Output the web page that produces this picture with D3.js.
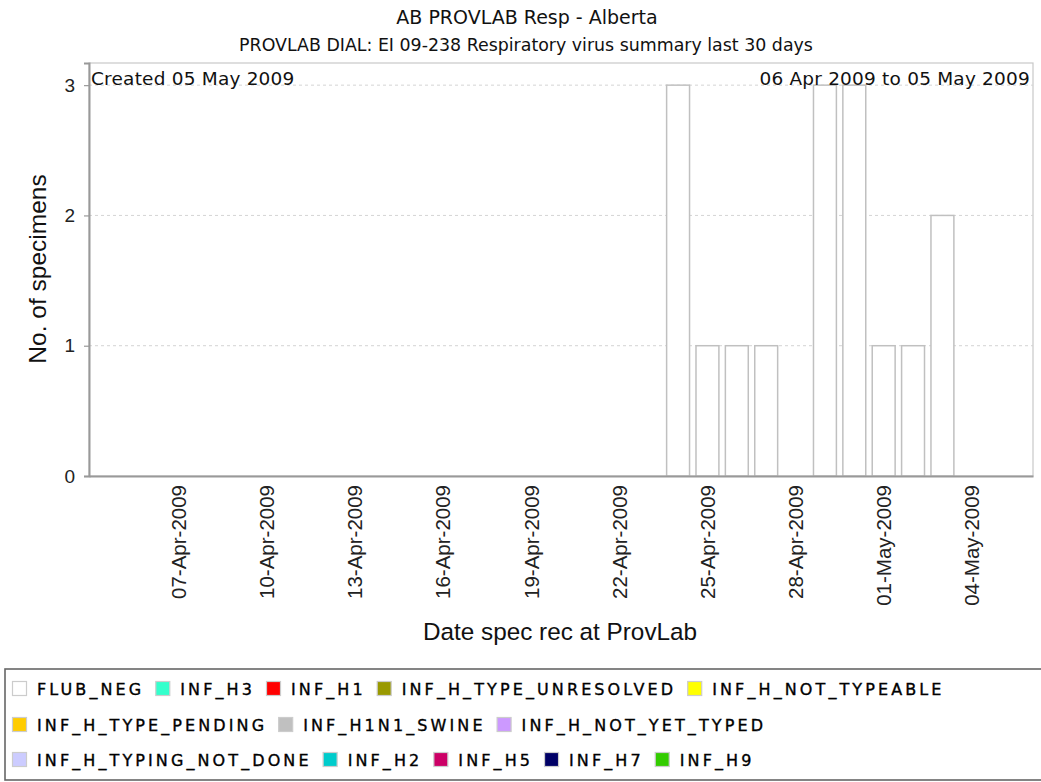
<!DOCTYPE html>
<html>
<head>
<meta charset="utf-8">
<script src="https://cdn.jsdelivr.net/npm/d3@7"></script>
<style>
  html, body { margin: 0; padding: 0; background: #fff; }
  svg { display: block; }
</style>
</head>
<body>
<svg id="chart" width="1041" height="782"></svg>
<script>
// ---------------- data ----------------
const chartTitle = "AB PROVLAB Resp - Alberta";
const chartSubtitle = "PROVLAB DIAL: EI 09-238 Respiratory virus summary last 30 days";
const createdText = "Created 05 May 2009";
const rangeText = "06 Apr 2009 to 05 May 2009";
const xAxisTitle = "Date spec rec at ProvLab";
const yAxisTitle = "No. of specimens";

const dates = [
  "06-Apr-2009","07-Apr-2009","08-Apr-2009","09-Apr-2009","10-Apr-2009",
  "11-Apr-2009","12-Apr-2009","13-Apr-2009","14-Apr-2009","15-Apr-2009",
  "16-Apr-2009","17-Apr-2009","18-Apr-2009","19-Apr-2009","20-Apr-2009",
  "21-Apr-2009","22-Apr-2009","23-Apr-2009","24-Apr-2009","25-Apr-2009",
  "26-Apr-2009","27-Apr-2009","28-Apr-2009","29-Apr-2009","30-Apr-2009",
  "01-May-2009","02-May-2009","03-May-2009","04-May-2009","05-May-2009"
];
const flubNeg = [
  0,0,0,0,0, 0,0,0,0,0, 0,0,0,0,0, 0,0,0,3,1, 1,1,0,3,3, 1,1,2,0,0
];
const tickLabels = [
  "07-Apr-2009","10-Apr-2009","13-Apr-2009","16-Apr-2009","19-Apr-2009",
  "22-Apr-2009","25-Apr-2009","28-Apr-2009","01-May-2009","04-May-2009"
];
const yTicks = [0, 1, 2, 3];

const legendNames = [
  "FLUB_NEG","INF_H3","INF_H1","INF_H_TYPE_UNRESOLVED","INF_H_NOT_TYPEABLE",
  "INF_H_TYPE_PENDING","INF_H1N1_SWINE","INF_H_NOT_YET_TYPED",
  "INF_H_TYPING_NOT_DONE","INF_H2","INF_H5","INF_H7","INF_H9"
];
const legendColors = [
  "#ffffff","#33ffcc","#ff0000","#999900","#ffff00",
  "#ffcc00","#c0c0c0","#cc99ff",
  "#ccccff","#00cccc","#cc0066","#000066","#33cc00"
];

// ---------------- layout ----------------
const svg = d3.select("#chart");
const plot = { left: 89, right: 1033, top: 63, bottom: 476 };
const sans = "'DejaVu Sans', Verdana, sans-serif";
const arial = "'Liberation Sans', Arial, sans-serif";

const x = d3.scaleBand()
  .domain(dates)
  .range([plot.left, plot.right])
  .paddingInner(0.22)
  .paddingOuter(1.18)
  .align(0.706);

const y = d3.scaleLinear()
  .domain([0, 3.17])
  .range([plot.bottom, plot.top]);

// titles
svg.append("text")
  .attr("x", 527).attr("y", 24)
  .attr("text-anchor", "middle")
  .style("font-family", sans).style("font-size", "19px").attr("fill", "#111")
  .text(chartTitle);
svg.append("text")
  .attr("x", 526).attr("y", 51)
  .attr("text-anchor", "middle")
  .style("font-family", sans).style("font-size", "17.4px").attr("fill", "#111")
  .text(chartSubtitle);

// plot outline (top/right)
svg.append("rect")
  .attr("x", plot.left).attr("y", plot.top)
  .attr("width", plot.right - plot.left).attr("height", plot.bottom - plot.top)
  .attr("fill", "none").attr("stroke", "#c8c8c8").attr("stroke-width", 1.2);

// gridlines
svg.append("g")
  .selectAll("line")
  .data(yTicks.filter(d => d > 0))
  .join("line")
  .attr("x1", plot.left).attr("x2", plot.right)
  .attr("y1", d => y(d)).attr("y2", d => y(d))
  .attr("stroke", "#d4d4d4").attr("stroke-width", 1)
  .attr("stroke-dasharray", "3,3");

// bars
svg.append("g")
  .selectAll("rect")
  .data(dates.map((d, i) => ({ date: d, v: flubNeg[i] })).filter(d => d.v > 0))
  .join("rect")
  .attr("x", d => x(d.date))
  .attr("y", d => y(d.v))
  .attr("width", x.bandwidth())
  .attr("height", d => y(0) - y(d.v))
  .attr("fill", "#ffffff")
  .attr("stroke", "#c0c0c0")
  .attr("stroke-width", 1.5);

// y axis
const yAxis = svg.append("g")
  .attr("transform", `translate(${plot.left},0)`)
  .call(d3.axisLeft(y).tickValues(yTicks).tickFormat(d3.format("d")).tickSize(5).tickPadding(9));
yAxis.select(".domain").attr("stroke", "#999").attr("stroke-width", 2);
yAxis.selectAll(".tick line").attr("stroke", "#999").attr("stroke-width", 1.2);
yAxis.selectAll(".tick text")
  .style("font-family", arial).style("font-size", "19px").attr("fill", "#222");

// x axis
const xAxis = svg.append("g")
  .attr("transform", `translate(0,${plot.bottom})`)
  .call(d3.axisBottom(x).tickValues(tickLabels).tickSize(0).tickSizeOuter(0));
xAxis.select(".domain").attr("stroke", "#999").attr("stroke-width", 2);
xAxis.selectAll(".tick text")
  .style("font-family", arial).style("font-size", "20.5px").attr("fill", "#222")
  .attr("text-anchor", "end")
  .attr("transform", "rotate(-90)")
  .attr("x", -9).attr("y", 0).attr("dy", "0.36em");

// in-plot annotations
svg.append("text")
  .attr("x", plot.left + 2).attr("y", 85)
  .style("font-family", sans).style("font-size", "18.5px").style("letter-spacing", "0.2px").attr("fill", "#111")
  .text(createdText);
svg.append("text")
  .attr("x", plot.right - 3).attr("y", 85)
  .attr("text-anchor", "end")
  .style("font-family", sans).style("font-size", "18.5px").style("letter-spacing", "0.2px").attr("fill", "#111")
  .text(rangeText);

// axis titles
svg.append("text")
  .attr("x", 560).attr("y", 640)
  .attr("text-anchor", "middle")
  .style("font-family", arial).style("font-size", "24.3px").attr("fill", "#111")
  .text(xAxisTitle);
svg.append("text")
  .attr("transform", "translate(46,269) rotate(-90)")
  .attr("text-anchor", "middle")
  .style("font-family", arial).style("font-size", "24.5px").attr("fill", "#111")
  .text(yAxisTitle);

// legend
const lg = svg.append("g");
lg.append("rect")
  .attr("x", 5).attr("y", 669).attr("width", 1045).attr("height", 111)
  .attr("fill", "#fff").attr("stroke", "#666").attr("stroke-width", 1.6);

const rowY = [689, 725, 760];
const maxX = 1036;
let cx = 12, row = 0;
legendNames.forEach((name, i) => {
  const t = lg.append("text")
    .style("font-family", sans).style("font-size", "16px")
    .style("letter-spacing", "3.1px").attr("fill", "#000")
    .style("stroke", "#000").style("stroke-width", "0.35px")
    .attr("dy", "0.36em")
    .text(name);
  const w = t.node().getComputedTextLength();
  const itemW = 25 + w;
  if (cx + itemW > maxX) { row += 1; cx = 12; }
  lg.append("rect")
    .attr("x", cx + 0.5).attr("y", rowY[row] - 7.5)
    .attr("width", 14).attr("height", 14)
    .attr("fill", legendColors[i]).attr("stroke", "#cccccc").attr("stroke-width", 1.2);
  t.attr("x", cx + 25).attr("y", rowY[row]);
  cx += itemW + 11;
});
</script>
</body>
</html>
